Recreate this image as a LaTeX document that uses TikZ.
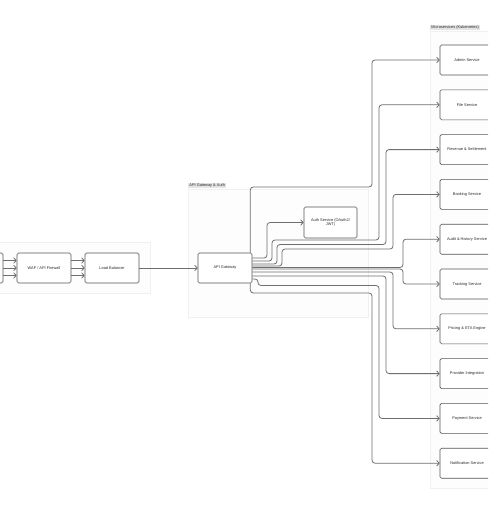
\documentclass[tikz,border=0pt]{standalone}
\usepackage{fontspec}
\setmainfont{Liberation Sans}
\usetikzlibrary{arrows.meta}
\definecolor{linec}{HTML}{6E6E6E}
\definecolor{boxc}{HTML}{555555}
\definecolor{txtc}{HTML}{2A2A2A}
\definecolor{grpc}{HTML}{F0F0F0}
\definecolor{grpfill}{HTML}{FDFDFD}
\definecolor{labc}{HTML}{E4E4E4}
\tikzset{
  svcbox/.style={draw=boxc, fill=white, line width=0.6pt, rounded corners=1.5pt,
    minimum width=54pt, minimum height=30pt, inner sep=0pt, text=txtc,
    font=\fontsize{3.9}{4.7}\selectfont, align=center},
  conn/.style={draw=linec, line width=0.8pt, rounded corners=3pt,
    -{Straight Barb[length=2.5pt,width=5.5pt]}},
  grpbox/.style={draw=grpc, fill=grpfill, line width=0.5pt},
  grplabel/.style={fill=labc, text=txtc, inner xsep=1.2pt, inner ysep=0.8pt,
    font=\fontsize{3.9}{4.7}\selectfont, anchor=south west},
}
\begin{document}
\begin{tikzpicture}[x=1pt,y=-1pt]
\useasboundingbox (0,0) rectangle (488,520);
\clip (0,0) rectangle (488,520);
\fill[white] (0,0) rectangle (488,520);

% groups
\draw[grpbox] (-10,242) rectangle (150,293);
\draw[grpbox] (188,189) rectangle (368,317);
\node[grplabel] (lblapi) at (188,188) {API Gateway \& Auth};
\draw[grpbox] (430,31) rectangle (500,488);
\node[grplabel] (lblms) at (430,30) {Microservices (Kubernetes)};

% left chain
\node[svcbox] (src) at (-24,268) {};
\node[svcbox] (waf) at (44,268) {WAF / API Firewall};
\node[svcbox] (lb) at (112,268) {Load Balancer};
\node[svcbox] (gw) at (225,268) {API Gateway};
\node[svcbox, minimum width=53pt, minimum height=31pt] (auth) at (330.5,222.5) {Auth Service (OAuth2/\\JWT)};

% services
\node[svcbox] (admin) at (467,60) {Admin Service};
\node[svcbox] (file) at (467,104.8) {File Service};
\node[svcbox] (revenue) at (467,149.6) {Revenue \& Settlement};
\node[svcbox] (booking) at (467,194.4) {Booking Service};
\node[svcbox] (audit) at (467,239.2) {Audit \& History Service};
\node[svcbox] (tracking) at (467,284) {Tracking Service};
\node[svcbox] (pricing) at (467,328.8) {Pricing \& ETA Engine};
\node[svcbox] (provider) at (467,373.6) {Provider Integration};
\node[svcbox] (payment) at (467,418.4) {Payment Service};
\node[svcbox] (notif) at (467,463.2) {Notification Service};

% left arrows
\foreach \d in {7.5,0,-7.5}{
  \draw[conn] ([yshift=\d pt]src.east) -- ([yshift=\d pt]waf.west);
  \draw[conn] ([yshift=\d pt]waf.east) -- ([yshift=\d pt]lb.west);
}
\draw[conn] (lb.east) -- (gw.west);

% gateway fan-out
\draw[conn] ([xshift=-2pt]gw.north east) |- (372,187) |- (admin.west);
\draw[conn] ([yshift=10pt]gw.east) -| (267,222.5) -- (auth.west);
\draw[conn] ([yshift=7pt]gw.east) -| (272,240) -| (379,104.8) -- (file.west);
\draw[conn] ([yshift=4pt]gw.east) -| (277,244.5) -| (386,149.6) -- (revenue.west);
\draw[conn] ([yshift=2pt]gw.east) -| (282,249) -| (393,194.4) -- (booking.west);
\draw[conn] ([yshift=0.5pt]gw.east) -- (403,267.5) |- (audit.west);
\draw[conn] ([yshift=-1pt]gw.east) -- (403,269) |- (tracking.west);
\draw[conn] ([yshift=-4pt]gw.east) -| (393,328.8) -- (pricing.west);
\draw[conn] ([yshift=-8pt]gw.east) -| (386,373.6) -- (provider.west);
\draw[conn] ([yshift=-11pt]gw.east) -| (258,285.5) -| (379,418.4) -- (payment.west);
\draw[conn] ([xshift=-2pt]gw.south east) |- (372,293) |- (notif.west);
\end{tikzpicture}
\end{document}
